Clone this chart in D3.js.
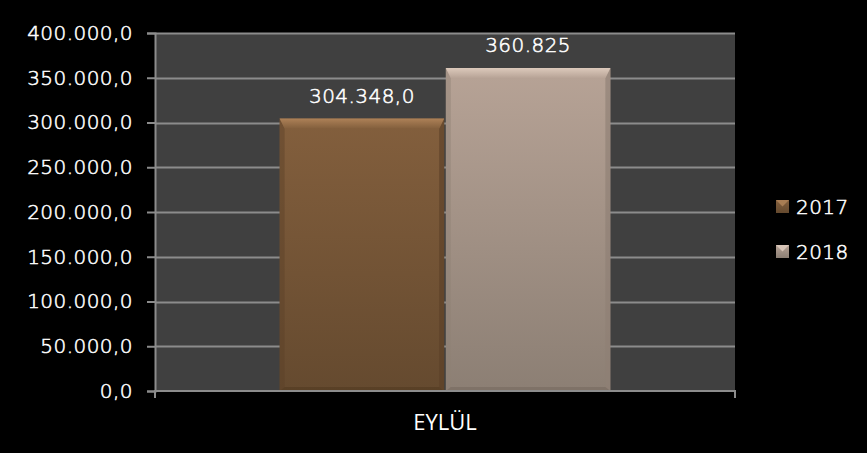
<!DOCTYPE html>
<html><head><meta charset="utf-8">
<script src="https://cdn.jsdelivr.net/npm/d3@7"></script>
<style>html,body{margin:0;padding:0;background:#000;}svg{display:block;}</style>
</head><body>
<svg id="c" width="867" height="453"></svg>
<script>
const categories = ["EYLÜL"];
const seriesNames = ["2017", "2018"];
const values2017 = [304348.0];
const values2018 = [360825];
const dataLabels = ["304.348,0", "360.825"];
const yTicks = [0, 50000, 100000, 150000, 200000, 250000, 300000, 350000, 400000];

const svg = d3.select("#c");
const W = 867, H = 453;
const m = {left: 155, right: 132, top: 33, bottom: 62};
const pw = W - m.left - m.right, ph = H - m.top - m.bottom;
const fontMain = "'Century Gothic','DejaVu Sans',sans-serif";
const txtStyle = sel => sel.attr("fill", "#fff").attr("stroke", "#fff").attr("stroke-width", 0.55)
  .style("font-family", fontMain)
  .style("font-size", "20px").style("font-weight", "300").style("letter-spacing", "0.45px");

svg.append("rect").attr("width", W).attr("height", H).attr("fill", "#000");

const loc = d3.formatLocale({decimal: ",", thousands: ".", grouping: [3], currency: ["", ""]});
const fmt = loc.format(",.1f");

const y = d3.scaleLinear().domain([0, 400000]).range([m.top + ph, m.top]);
const x0 = d3.scaleBand().domain(categories).range([m.left, m.left + pw]).paddingInner(0).paddingOuter(0);
const x1 = d3.scaleBand().domain(seriesNames).range([0, x0.bandwidth()]).paddingInner(0.01).paddingOuter(0.75);

const colors = {
  "2017": {top: "#835f3d", bot: "#654a2f", bevT: "#ad8157", bevS: "#5c4028", bevB: "#523a22"},
  "2018": {top: "#b7a396", bot: "#8c7f74", bevT: "#dcc9bb", bevS: "#8f8075", bevB: "#77695f"}
};

const defs = svg.append("defs");
seriesNames.forEach(s => {
  const g = defs.append("linearGradient").attr("id", "g" + s).attr("x1", 0).attr("y1", 0).attr("x2", 0).attr("y2", 1);
  g.append("stop").attr("offset", "0%").attr("stop-color", colors[s].top);
  g.append("stop").attr("offset", "100%").attr("stop-color", colors[s].bot);
  const t = defs.append("linearGradient").attr("id", "t" + s).attr("x1", 0).attr("y1", 0).attr("x2", 0).attr("y2", 1);
  t.append("stop").attr("offset", "0%").attr("stop-color", colors[s].bevT);
  t.append("stop").attr("offset", "100%").attr("stop-color", colors[s].top);
});

// plot area
svg.append("rect").attr("x", m.left).attr("y", m.top).attr("width", pw).attr("height", ph).attr("fill", "#404040");

// gridlines
svg.append("g").selectAll("line").data(yTicks.filter(d => d > 0)).join("line")
  .attr("x1", m.left).attr("x2", m.left + pw)
  .attr("y1", d => Math.round(y(d)) + 0.5).attr("y2", d => Math.round(y(d)) + 0.5)
  .attr("stroke", "#8c8c8c").attr("stroke-width", 2);

// y axis
const yAxis = d3.axisLeft(y).tickValues(yTicks).tickFormat(fmt).tickSize(8).tickPadding(14);
const ya = svg.append("g").attr("transform", `translate(${m.left},0)`).call(yAxis);
ya.select(".domain").attr("stroke", "#8c8c8c").attr("stroke-width", 2);
ya.selectAll(".tick line").attr("stroke", "#8c8c8c").attr("stroke-width", 2);
ya.selectAll(".tick text").call(txtStyle);

// bars
const seriesVals = {"2017": values2017, "2018": values2018};
const bars = [];
categories.forEach((c, ci) => {
  seriesNames.forEach((s, si) => {
    bars.push({c, s, v: seriesVals[s][ci], label: dataLabels[si]});
  });
});
const bv = 10, sv = 5, bbv = 4;
const bg = svg.append("g");
bars.forEach(d => {
  const bx = x0(d.c) + x1(d.s), bw = x1.bandwidth();
  const by = y(d.v), bb = y(0), bh = bb - by;
  const col = colors[d.s];
  const g = bg.append("g");
  g.append("rect").attr("x", bx).attr("y", by).attr("width", bw).attr("height", bh).attr("fill", `url(#g${d.s})`);
  g.append("polygon").attr("points", [[bx, by], [bx + sv, by + bv], [bx + sv, bb - bbv], [bx, bb]].join(" "))
    .attr("fill", col.bevS).attr("opacity", 0.45);
  g.append("polygon").attr("points", [[bx + bw, by], [bx + bw - sv, by + bv], [bx + bw - sv, bb - bbv], [bx + bw, bb]].join(" "))
    .attr("fill", col.bevS).attr("opacity", 0.65);
  g.append("polygon").attr("points", [[bx, bb], [bx + sv, bb - bbv], [bx + bw - sv, bb - bbv], [bx + bw, bb]].join(" "))
    .attr("fill", col.bevB).attr("opacity", 0.6);
  g.append("polygon").attr("points", [[bx, by], [bx + bw, by], [bx + bw - sv, by + bv], [bx + sv, by + bv]].join(" "))
    .attr("fill", `url(#t${d.s})`);
  svg.append("text").attr("x", bx + bw / 2).attr("y", by - 16).attr("text-anchor", "middle")
    .call(txtStyle).text(d.label);
});

// x axis
const xAxis = d3.axisBottom(x0).tickSize(0);
const xa = svg.append("g").attr("transform", `translate(0,${m.top + ph})`).call(xAxis);
xa.select(".domain").attr("stroke", "#8c8c8c").attr("stroke-width", 2).attr("d", `M${m.left},7V0H${m.left + pw}V7`);
xa.selectAll(".tick text").attr("y", 39).attr("dy", 0).attr("fill", "#fff")
  .style("font-family", "'Liberation Sans Narrow','Open Sans',sans-serif").style("font-size", "22px");

// legend
const lg = svg.append("g");
seriesNames.forEach((s, i) => {
  const ly = 207 + i * 45;
  const col = colors[s];
  const sx = 776, sz = 13, sy = ly - 7;
  lg.append("rect").attr("x", sx).attr("y", sy).attr("width", sz).attr("height", sz).attr("fill", `url(#g${s})`);
  lg.append("polygon").attr("points", [[sx, sy], [sx + sz, sy], [sx + sz / 2, sy + sz / 2]].join(" ")).attr("fill", col.bevT).attr("opacity", 0.9);
  lg.append("text").attr("x", 796).attr("y", ly).attr("dy", "0.36em").call(txtStyle).text(s);
});
</script>
</body></html>
